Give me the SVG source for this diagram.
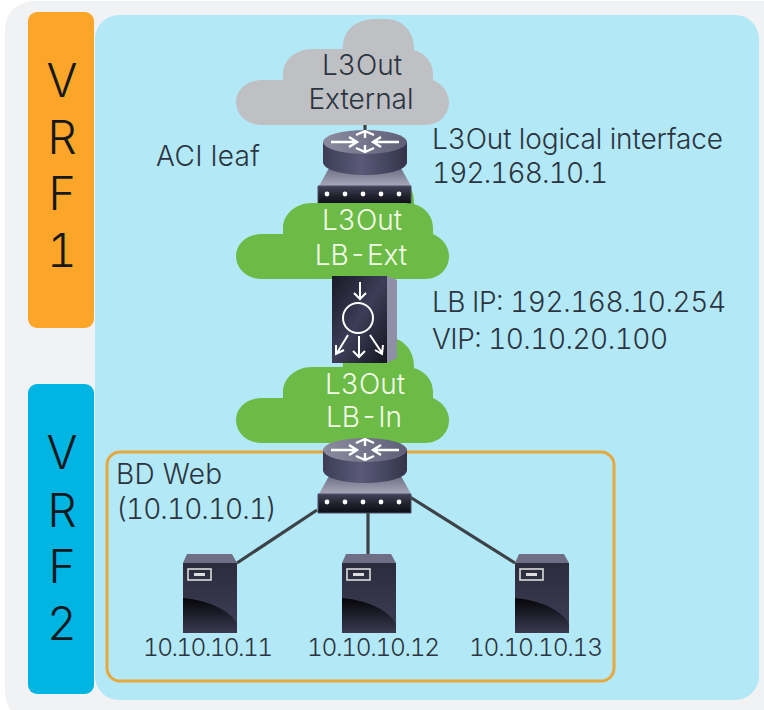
<svg xmlns="http://www.w3.org/2000/svg" xmlns:xlink="http://www.w3.org/1999/xlink" width="764" height="710" viewBox="0 0 764 710">
<style>
text{font-family:"Inter","Liberation Sans",Arial,sans-serif;fill:#2b3440;font-weight:300;font-variant-numeric:tabular-nums}
.t{font-size:28px}
.c{text-anchor:middle}
.w{fill:#f3fbe9;font-size:28px;text-anchor:middle}
.n{font-size:24.5px}
.v{font-size:46px;text-anchor:middle;fill:#15181c}
.line{stroke:#3d4148;stroke-width:3.2;fill:none}
.arrow{fill:none;stroke:#fff}
</style>
<defs>
<path id="cloud-bump" d="M343 32 C341 12 356 0 375 0 L385 0 C403 0 415 13 414 32 L414 50 L343 50 Z"/>
<path id="cloud-low" d="M262 106 C246 106 236 95 236 83 C236 71 247 61 262 61 L283 61 L283 55 C283 41 296 30 312 30 L405 30 C423 30 433 42 433 55 L433 61 C442 65 449 73 449 83 C449 95 440 106 425 106 Z"/>
<linearGradient id="rside" x1="0" x2="1" y1="0" y2="0"><stop offset="0" stop-color="#3c3d55"/><stop offset=".45" stop-color="#5a5a78"/><stop offset="1" stop-color="#33344a"/></linearGradient>
<linearGradient id="rtop" x1="0" x2="1" y1="0" y2="0"><stop offset="0" stop-color="#8c8ca0"/><stop offset="1" stop-color="#5e5e78"/></linearGradient>
<linearGradient id="dark" x1="0" x2="0" y1="0" y2="1"><stop offset="0" stop-color="#43435a"/><stop offset=".5" stop-color="#23232f"/><stop offset="1" stop-color="#0c0c12"/></linearGradient>
<linearGradient id="lb" x1="0" x2="1" y1="0" y2="1"><stop offset="0" stop-color="#191926"/><stop offset=".5" stop-color="#3d3d58"/><stop offset="1" stop-color="#15151f"/></linearGradient>
<linearGradient id="srv" x1="0" x2="0" y1="0" y2="1"><stop offset="0" stop-color="#2c2c3e"/><stop offset="1" stop-color="#3e3e56"/></linearGradient>
<linearGradient id="srvb" x1="0" x2="0" y1="0" y2="1"><stop offset="0" stop-color="#050508"/><stop offset="1" stop-color="#3a3a52"/></linearGradient>
<linearGradient id="base" x1="0" x2="0" y1="0" y2="1"><stop offset="0" stop-color="#6e6e84"/><stop offset="1" stop-color="#a8a8ba"/></linearGradient>
<g id="router">
<path d="M-36 38 H36 L46 56 H-46 Z" fill="url(#base)"/>
<path d="M-47 56 H46 V75 H-47 Z" fill="url(#dark)" stroke="#4b5067"/>
<g fill="#fff"><circle cx="-38" cy="64" r="2.4"/><circle cx="-20" cy="64" r="2.4"/><circle cx="-2" cy="64" r="2.4"/><circle cx="16" cy="64" r="2.4"/><circle cx="34" cy="64" r="2.4"/></g>
<path d="M-42 12 V32 C-42 40 -22 45 0 45 C22 45 42 40 42 32 V12 Z" fill="url(#rside)"/>
<ellipse cx="0" cy="12" rx="42" ry="12" fill="url(#rtop)"/>
<g fill="none" stroke="#fff" stroke-width="2.4"><path d="M-34 12 H-10 M-16 7 L-8 12 L-16 17 M34 12 H10 M16 7 L8 12 L16 17 M0 1 V8 M-9 5 L0 1 L9 5 M0 15 V22 M-9 18 L0 22 L9 18"/></g>
</g>
<g id="server">
<path d="M-23 0 H22 L27 9 H-27 Z" fill="#6e6e84"/>
<rect x="-27" y="9" width="54" height="70" fill="url(#srv)"/>
<path d="M-27 44 C-5 46 18 54 27 70 V79 H-27 Z" fill="url(#srvb)"/>
<rect x="-22" y="15" width="23" height="11" fill="none" stroke="#ddd" stroke-width="1.6"/>
<rect x="-16" y="19" width="11" height="3" fill="#ddd"/>
</g>
</defs>
<rect width="764" height="710" fill="#fff"/>
<rect x="5" y="1" width="790" height="720" rx="28" fill="#f1f2f3"/>
<rect x="95" y="15" width="664" height="685" rx="24" fill="#b3e8f6"/>
<g id="vrf1"><rect x="28" y="12" width="66" height="316" rx="9" fill="#fba629"/><text class="v" x="62" y="97">V</text><text class="v" x="62" y="154">R</text><text class="v" x="62" y="210">F</text><text class="v" x="62" y="267">1</text></g>
<g id="vrf2"><rect x="28" y="384" width="66" height="310" rx="9" fill="#00b5e2"/><text class="v" x="62" y="469">V</text><text class="v" x="62" y="527">R</text><text class="v" x="62" y="583">F</text><text class="v" x="62" y="640">2</text></g>
<rect id="bd-web" x="107" y="452" width="507" height="229" rx="13" fill="none" stroke="#e6a83c" stroke-width="3"/>
<g id="connectors">
<path class="line" d="M365 118 V135"/>
<path class="line" d="M317 510 L237 563 M368 513 V554 M410 497 L515 563"/>
</g>
<g id="cloud-external"><g transform="translate(0 19)" fill="#bfc0c4"><use xlink:href="#cloud-bump"/><use xlink:href="#cloud-low"/></g><text class="c t" x="362" y="75">L3Out</text><text class="c t" x="361" y="109">External</text></g>
<use xlink:href="#cloud-bump" transform="translate(0 173)" fill="#6cbb46"/>
<g id="leaf-top"><use xlink:href="#router" x="365" y="130"/></g>
<g id="cloud-lb-ext"><use xlink:href="#cloud-low" transform="translate(0 173)" fill="#6cbb46"/><text class="w" x="362" y="230">L3Out</text><text class="w" x="361" y="265">LB-Ext</text></g>
<g id="cloud-lb-in"><g transform="translate(0 337)" fill="#6cbb46"><use xlink:href="#cloud-bump"/><use xlink:href="#cloud-low"/></g><text class="w" x="365" y="394">L3Out</text><text class="w" x="364" y="427">LB-In</text></g>
<g id="load-balancer">
<path d="M387 276 L397 280 V358 L387 363 Z" fill="#8f8fa8"/>
<rect x="332" y="276" width="55" height="87" fill="url(#lb)"/>
<g class="arrow" stroke-width="2"><circle cx="358" cy="318" r="15"/><path d="M360 282 V299 M354 293 L360 299 L366 293 M359 336 V357 M353 351 L359 357 L365 351 M348 335 L337 353 M336 345 L336 354 L344 350 M370 335 L382 353 M383 345 L382 354 L375 350"/></g>
</g>
<g id="leaf-bottom"><use xlink:href="#router" x="365" y="438"/></g>
<g id="server-1"><use xlink:href="#server" x="210" y="554"/><text class="n" x="143" y="656" textLength="130">10.10.10.11</text></g>
<g id="server-2"><use xlink:href="#server" x="369" y="554"/><text class="n" x="307" y="656" textLength="133">10.10.10.12</text></g>
<g id="server-3"><use xlink:href="#server" x="542" y="554"/><text class="n" x="469" y="656" textLength="134">10.10.10.13</text></g>
<text class="t" x="156" y="166" textLength="104">ACI leaf</text>
<text class="t" x="432" y="149" textLength="291">L3Out logical interface</text>
<text class="t" x="432" y="183" textLength="176">192.168.10.1</text>
<text class="t" x="432" y="312" textLength="294">LB IP: 192.168.10.254</text>
<text class="t" x="432" y="349" textLength="236">VIP: 10.10.20.100</text>
<text class="t" x="116" y="484" textLength="106">BD Web</text>
<text class="t" x="116" y="519" textLength="161">(10.10.10.1)</text>
</svg>
